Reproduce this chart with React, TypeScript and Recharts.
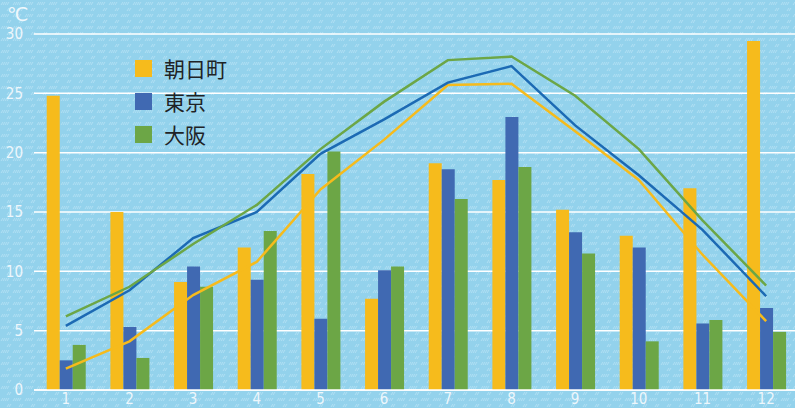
import React from 'react';
import { ComposedChart, Bar, Line, XAxis, YAxis, CartesianGrid } from 'recharts';

const MONTHS = ['1', '2', '3', '4', '5', '6', '7', '8', '9', '10', '11', '12'];
const Y_TICKS = [0, 5, 10, 15, 20, 25, 30];

// bars
const ASAHI_BAR = [24.8, 15.0, 9.1, 12.0, 18.2, 7.7, 19.1, 17.7, 15.2, 13.0, 17.0, 29.4];
const TOKYO_BAR = [2.5, 5.3, 10.4, 9.3, 6.0, 10.1, 18.6, 23.0, 13.3, 12.0, 5.6, 6.9];
const OSAKA_BAR = [3.8, 2.7, 8.7, 13.4, 20.1, 10.4, 16.1, 18.8, 11.5, 4.1, 5.9, 4.9];

// lines
const ASAHI_LINE = [1.8, 4.1, 8.0, 10.8, 16.9, 21.1, 25.7, 25.8, 21.8, 17.7, 11.4, 5.8];
const TOKYO_LINE = [5.4, 8.4, 12.8, 15.0, 19.9, 22.8, 25.9, 27.3, 22.3, 18.1, 13.5, 7.9];
const OSAKA_LINE = [6.2, 8.7, 12.3, 15.6, 20.3, 24.3, 27.8, 28.1, 24.8, 20.3, 14.3, 8.8];

const SERIES = [
  { name: '朝日町', bar: '#F6BB1C', line: '#F6BB1C' },
  { name: '東京', bar: '#4069B2', line: '#1C6AB4' },
  { name: '大阪', bar: '#6CA646', line: '#6CA646' },
];

const chartData = MONTHS.map((m, i) => ({
  month: m,
  asahiBar: ASAHI_BAR[i],
  tokyoBar: TOKYO_BAR[i],
  osakaBar: OSAKA_BAR[i],
  asahiLine: ASAHI_LINE[i],
  tokyoLine: TOKYO_LINE[i],
  osakaLine: OSAKA_LINE[i],
}));

const pattern =
  "url(\"data:image/svg+xml;utf8,<svg xmlns='http://www.w3.org/2000/svg' width='12' height='12'>" +
  "<g stroke='%23b8e2f4' stroke-width='0.8'>" +
  "<path d='M1 5 L3 2'/><path d='M3 5 L5 2'/><path d='M5 5 L7 2'/><path d='M7 5 L9 2'/>" +
  "<path d='M7 11 L9 8'/><path d='M9 11 L11 8'/></g></svg>\")";

const tickFont = "'Liberation Sans Narrow', 'DejaVu Sans Condensed', sans-serif";
const tickColor = '#eef7fc';

const App: React.FC = () => {
  return (
    <div
      style={{
        position: 'absolute',
        left: 0,
        top: 0,
        width: 795,
        height: 408,
        overflow: 'hidden',
        backgroundColor: '#93D2EC',
        backgroundImage: pattern,
      }}
    >
      <ComposedChart
        width={800}
        height={408}
        data={chartData}
        margin={{ top: 34, right: 2, left: 1, bottom: 0 }}
        barCategoryGap="20%"
        barGap={0}
      >
        <CartesianGrid horizontal vertical={false} stroke="#ffffff" strokeWidth={1.5} />
        <XAxis
          dataKey="month"
          height={18}
          axisLine={{ stroke: '#ffffff', strokeWidth: 1.5 }}
          tickLine={false}
          tickSize={0}
          tickMargin={3}
          tick={{ fill: tickColor, fontSize: 15, fontFamily: tickFont }}
        />
        <YAxis
          width={33}
          domain={[0, 30]}
          ticks={Y_TICKS}
          axisLine={false}
          tickLine={false}
          tickSize={0}
          tickMargin={11}
          tick={{ fill: tickColor, fontSize: 15, fontFamily: tickFont }}
        />
        <Bar dataKey="asahiBar" fill={SERIES[0].bar} isAnimationActive={false} />
        <Bar dataKey="tokyoBar" fill={SERIES[1].bar} isAnimationActive={false} />
        <Bar dataKey="osakaBar" fill={SERIES[2].bar} isAnimationActive={false} />
        <Line dataKey="asahiLine" stroke={SERIES[0].line} strokeWidth={2.5} dot={false} type="linear" isAnimationActive={false} />
        <Line dataKey="tokyoLine" stroke={SERIES[1].line} strokeWidth={2.5} dot={false} type="linear" isAnimationActive={false} />
        <Line dataKey="osakaLine" stroke={SERIES[2].line} strokeWidth={2.5} dot={false} type="linear" isAnimationActive={false} />
      </ComposedChart>

      {/* unit label */}
      <div
        style={{
          position: 'absolute',
          left: 7,
          top: 5,
          color: tickColor,
          fontSize: 19,
          lineHeight: 1,
          fontFamily: "'DejaVu Sans', sans-serif",
        }}
      >
        ℃
      </div>

      {/* legend */}
      <div style={{ position: 'absolute', left: 135, top: 52 }}>
        {SERIES.map((s) => (
          <div key={s.name} style={{ display: 'flex', alignItems: 'center', height: 33 }}>
            <div style={{ width: 17, height: 17, background: s.bar, marginRight: 12 }} />
            <span
              style={{
                fontSize: 21,
                color: '#1f2326',
                fontFamily: "'Noto Sans CJK JP', sans-serif",
                lineHeight: 1,
              }}
            >
              {s.name}
            </span>
          </div>
        ))}
      </div>
    </div>
  );
};

export default App;
